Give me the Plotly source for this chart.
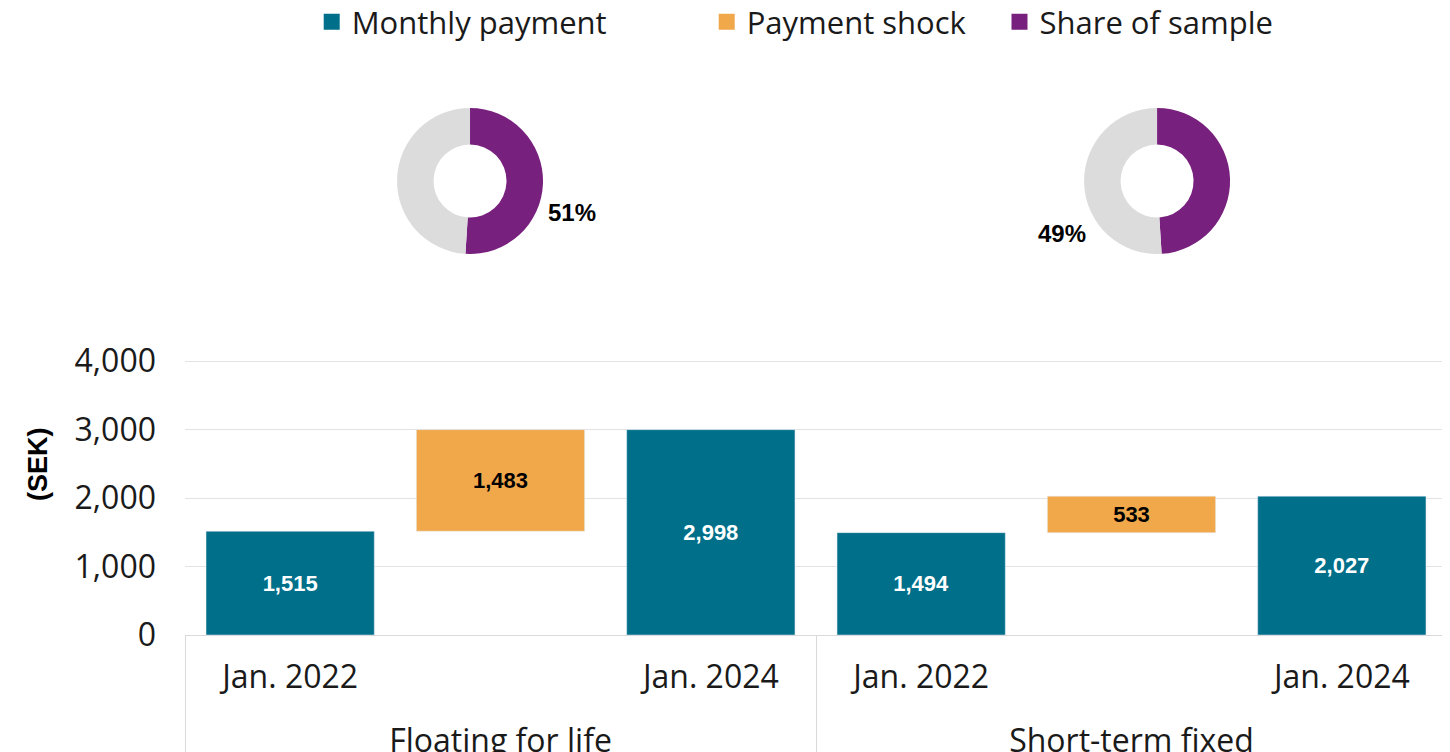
import plotly.graph_objects as go

# ---- data ----
groups = ["Floating for life", "Short-term fixed"]
periods = ["Jan. 2022", "Jan. 2024"]
payment_2022 = [1515, 1494]
payment_2024 = [2998, 2027]
payment_shock = [1483, 533]
share_of_sample = [51, 49]

# ---- styling ----
TEAL = "#006F8A"
ORANGE = "#F1A84B"
PURPLE = "#78207E"
GREY = "#DCDCDC"
TXT = "#1a1a1a"
FONT = "Open Sans"
BOLD = "Liberation Sans, Arial, sans-serif"
PAD = "<br><span style='font-size:1px'>\u00a0</span>"  # pushes group labels down

# multicategory x: [Jan 2022, (shock), Jan 2024] per group
x_outer, x_inner = [], []
pay_y, pay_txt, shock_y, shock_base, shock_txt = [], [], [], [], []
for i, g in enumerate(groups):
    x_outer += [g, g, g]
    x_inner += [periods[0] + PAD, "\u00a0", periods[1] + PAD]
    pay_y += [payment_2022[i], None, payment_2024[i]]
    pay_txt += [f"{payment_2022[i]:,}", "", f"{payment_2024[i]:,}"]
    shock_y += [None, payment_shock[i], None]
    shock_base += [None, payment_2022[i], None]
    shock_txt += ["", f"{payment_shock[i]:,}", ""]

fig = go.Figure()

fig.add_trace(go.Bar(
    x=[x_outer, x_inner], y=pay_y, name="Monthly payment", marker_color=TEAL,
    text=pay_txt, textposition="inside",
    insidetextanchor="middle", textangle=0,
    textfont=dict(family=BOLD, size=22, color="white", weight="bold"),
    showlegend=False,
))
fig.add_trace(go.Bar(
    x=[x_outer, x_inner], y=shock_y, base=shock_base, name="Payment shock",
    marker_color=ORANGE,
    text=shock_txt, textposition="inside",
    insidetextanchor="middle", textangle=0,
    textfont=dict(family=BOLD, size=22, color="black", weight="bold"),
    showlegend=False,
))

# legend entries (three separate legends to reproduce the spacing)
for name, col, lg in [("Monthly payment", TEAL, "legend"),
                      ("Payment shock", ORANGE, "legend2"),
                      ("Share of sample", PURPLE, "legend3")]:
    fig.add_trace(go.Scatter(
        x=[None], y=[None], mode="markers", name=name,
        marker=dict(symbol="square", size=17, color=col),
        legend=lg, showlegend=True, hoverinfo="skip",
    ))

# donuts
pie_domains_x = [[0.168, 0.2837], [0.7124, 0.8281]]
pie_dirs = ["clockwise", "counterclockwise"]
for i, s in enumerate(share_of_sample):
    fig.add_trace(go.Pie(
        values=[s, 100 - s], labels=["Share of sample", "Other"],
        marker=dict(colors=[PURPLE, GREY], line=dict(width=0)),
        hole=0.5, sort=False, direction=pie_dirs[i], rotation=0,
        textinfo="none", hoverinfo="label+percent", showlegend=False,
        domain=dict(x=pie_domains_x[i], y=[0.6626, 0.9165]),
    ))

label_pos = [(0.3067, 0.734), (0.695, 0.699)]
for (ax_, ay_), s in zip(label_pos, share_of_sample):
    fig.add_annotation(x=ax_, y=ay_, xref="paper", yref="paper",
                       xanchor="center", yanchor="middle",
                       text=f"<b>{s}%</b>", showarrow=False,
                       font=dict(family=BOLD, size=24, color="black"))

fig.add_annotation(x=-0.1165, y=0.2974, xref="paper", yref="paper",
                   xanchor="center", yanchor="middle",
                   text="<b>(SEK)</b>", textangle=-90, showarrow=False,
                   font=dict(family=BOLD, size=27, color="black"))

legend_common = dict(orientation="h", yanchor="middle", xanchor="left",
                     y=1.066, font=dict(family=FONT, size=31, color=TXT),
                     bgcolor="rgba(0,0,0,0)", borderwidth=0)

fig.update_layout(
    width=1450, height=752,
    margin=dict(l=177, r=11, t=52, b=125, autoexpand=False),
    paper_bgcolor="white", plot_bgcolor="white",
    barmode="overlay", bargap=0.2,
    legend=dict(x=0.1004, **legend_common),
    legend2=dict(x=0.4134, **legend_common),
    legend3=dict(x=0.6454, **legend_common),
    xaxis=dict(type="multicategory", showline=True, linecolor="#d9d9d9",
               linewidth=1, showdividers=True, dividercolor="#d9d9d9",
               dividerwidth=1, tickfont=dict(family=FONT, size=32, color=TXT),
               ticklabelstandoff=14, showgrid=False, automargin=False),
    yaxis=dict(domain=[0, 0.4789], range=[0, 4020], tickvals=[0, 1000, 2000, 3000, 4000],
               tickformat=",", showgrid=True, gridcolor="#e3e3e3", gridwidth=1,
               zeroline=False, ticks="", ticklabelstandoff=28, automargin=False,
               tickfont=dict(family=FONT, size=32, color=TXT)),
)

fig.write_html("out.html")
